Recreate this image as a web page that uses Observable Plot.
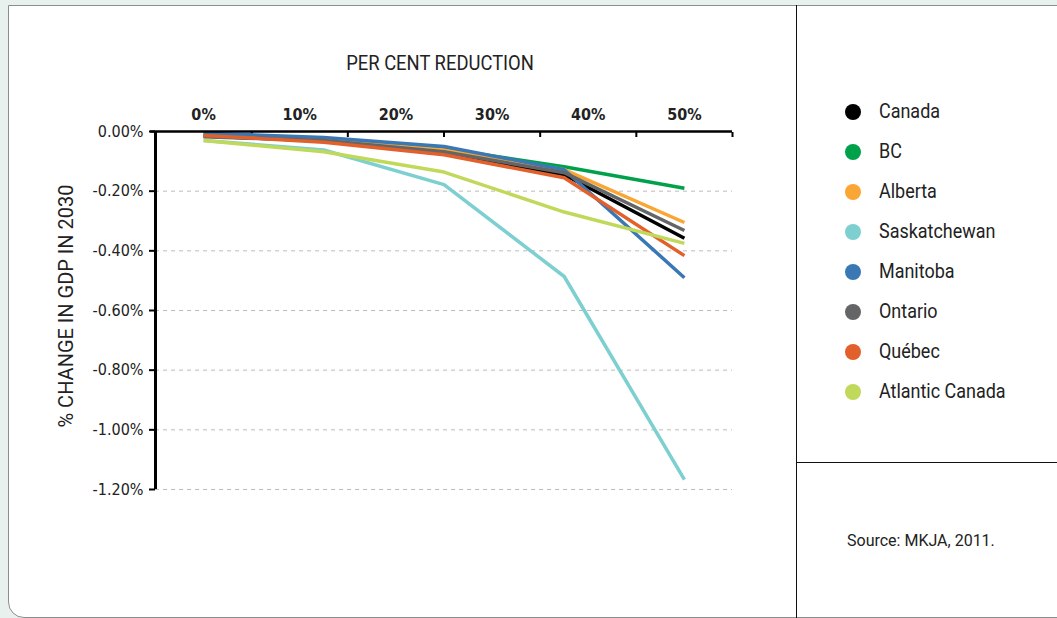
<!DOCTYPE html>
<html>
<head>
<meta charset="utf-8">
<script src="https://cdn.jsdelivr.net/npm/d3@7"></script>
<script src="https://cdn.jsdelivr.net/npm/@observablehq/plot@0.6"></script>
<style>
  html, body { margin: 0; padding: 0; }
  body { width: 1057px; height: 618px; background: #e9f1ef; position: relative; overflow: hidden;
         font-family: Roboto, "DejaVu Sans Condensed", sans-serif; color: #222; }
  #panel { position: absolute; left: 8px; top: 5px; width: 1100px; height: 613px; background: #fff;
           border: 1px solid #8a8f8e; border-radius: 0 0 0 16px; box-sizing: border-box; }
  #vdiv { position: absolute; left: 796px; top: 5px; width: 1px; height: 613px; background: #111; }
  #hdiv { position: absolute; left: 796px; top: 462px; width: 261px; height: 1px; background: #111; }
  #chart { position: absolute; left: 0; top: 0; }
  .nar { display: inline-block; transform: scaleX(0.84); white-space: nowrap; }
  #title { position: absolute; left: 240px; width: 400px; top: 51px; text-align: center; font-size: 20px; }
  #title .nar { transform-origin: center; transform: scaleX(0.92); }
  #ylabel { position: absolute; left: 66px; top: 306px; transform: translate(-50%, -50%) rotate(-90deg);
            white-space: nowrap; font-size: 20px; }
  #ylabel .nar { transform-origin: center; transform: scaleX(1.0); }
  #legend { position: absolute; left: 845px; top: 99px; }
  .item { height: 40px; display: flex; align-items: flex-start; font-size: 21px; }
  .item .nar { transform-origin: left center; transform: scaleX(0.855); }
  .dot { width: 16px; height: 16px; border-radius: 50%; margin-top: 5px; margin-right: 18px; flex: none; }
  #source { position: absolute; left: 847px; top: 531px; font-size: 16px; }
  #source .nar { transform-origin: left center; transform: scaleX(1.0); }
</style>
</head>
<body>
<div id="panel"></div>
<div id="vdiv"></div>
<div id="hdiv"></div>
<div id="title"><span class="nar">PER CENT REDUCTION</span></div>
<div id="ylabel"><span class="nar">% CHANGE IN GDP IN 2030</span></div>
<div id="chart"></div>
<div id="legend"></div>
<div id="source"><span class="nar">Source: MKJA, 2011.</span></div>
<script>
const reductions = [0, 12.5, 25, 37.5, 50];
const xTickLabels = [0, 10, 20, 30, 40, 50];
const yTicks = [0, -0.2, -0.4, -0.6, -0.8, -1.0, -1.2];
const regions = ["Canada", "BC", "Alberta", "Saskatchewan", "Manitoba", "Ontario", "Québec", "Atlantic Canada"];
const colors = ["#000000", "#00a14b", "#f9a634", "#7dcfd0", "#3a78b5", "#646567", "#e1602b", "#c0d95a"];
const canada       = [-0.015, -0.032, -0.072, -0.145, -0.358];
const bc           = [-0.007, -0.025, -0.058, -0.118, -0.190];
const alberta      = [-0.010, -0.028, -0.062, -0.128, -0.305];
const saskatchewan = [-0.030, -0.062, -0.178, -0.486, -1.167];
const manitoba     = [-0.006, -0.020, -0.050, -0.128, -0.490];
const ontario      = [-0.018, -0.030, -0.068, -0.138, -0.332];
const quebec       = [-0.013, -0.036, -0.078, -0.155, -0.416];
const atlantic     = [-0.030, -0.068, -0.136, -0.270, -0.375];
const seriesValues = [canada, bc, alberta, saskatchewan, manitoba, ontario, quebec, atlantic];

const data = [];
regions.forEach((r, i) => seriesValues[i].forEach((v, j) => data.push({region: r, x: reductions[j], y: v})));

const fmtY = d => (d < 0 ? "-" : "") + Math.abs(d).toFixed(2) + "%";

const plot = Plot.plot({
  width: 790,
  height: 520,
  marginLeft: 155,
  marginRight: 58,
  marginTop: 131,
  marginBottom: 31,
  style: { fontFamily: '"DejaVu Sans Condensed", Roboto, sans-serif', fontSize: "15px", color: "#111", background: "transparent" },
  x: { type: "linear", domain: [-5, 55] },
  y: { domain: [-1.2, 0] },
  color: { domain: regions, range: colors },
  marks: [
    Plot.gridY(yTicks.slice(1), { stroke: "#bbb", strokeOpacity: 1, strokeDasharray: "4,4", strokeWidth: 1 }),
    Plot.axisX(xTickLabels, { anchor: "top", tickSize: 0, tickPadding: 12, tickFormat: d => d + "%", label: null, fontWeight: 600, fontSize: 16, fill: "#222" }),
    Plot.axisX([5, 15, 25, 35, 45, 55], { anchor: "top", tickSize: -5, tickFormat: () => "", label: null, strokeWidth: 2, stroke: "#000" }),
    Plot.axisY(yTicks, { anchor: "left", tickSize: 6, tickPadding: 6, tickFormat: fmtY, label: null, strokeWidth: 2, stroke: "#000", fontSize: 16, fill: "#222" }),
    Plot.line(data, { x: "x", y: "y", z: "region", stroke: "region", strokeWidth: 3.5, strokeLinejoin: "miter", strokeLinecap: "butt" }),
    Plot.ruleY([0], { x1: -5.5, x2: 55, stroke: "#000", strokeWidth: 2.5 }),
    Plot.ruleX([-5], { y1: -1.2, y2: 0, stroke: "#000", strokeWidth: 3 })
  ]
});
document.getElementById("chart").appendChild(plot);

const legend = document.getElementById("legend");
regions.forEach((r, i) => {
  const it = document.createElement("div");
  it.className = "item";
  it.innerHTML = `<span class="dot" style="background:${colors[i]}"></span><span class="nar">${r}</span>`;
  legend.appendChild(it);
});
</script>
</body>
</html>
